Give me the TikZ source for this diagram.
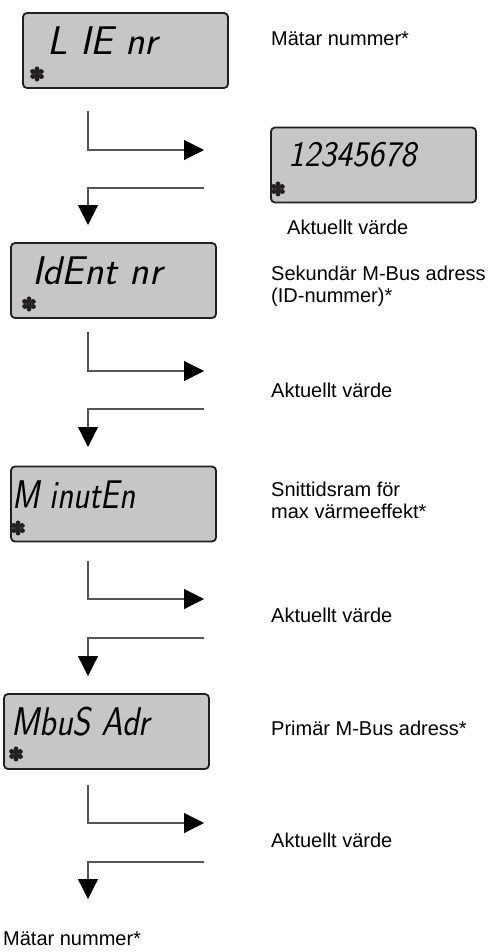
\documentclass[tikz,border=0pt]{standalone}
\usepackage{fontspec}
\usepackage{graphicx}
\setmainfont{Liberation Sans}
\newfontfamily\symfont[FakeBold=3]{DejaVu Sans}
\usetikzlibrary{arrows.meta}
\definecolor{lcdfill}{RGB}{198,198,198}
\definecolor{lcdedge}{RGB}{35,31,32}
\definecolor{wire}{RGB}{85,85,85}
\begin{document}
\begin{tikzpicture}[x=1pt,y=-1pt,
  lcdbox/.style={draw=lcdedge, line width=1.8pt, fill=lcdfill, rounded corners=4pt,
                 minimum width=205pt, minimum height=75pt, inner sep=0pt},
  lcdtext/.style={anchor=base west, inner sep=0pt,
                  font=\sffamily\slshape\fontsize{40}{40}\selectfont},
  lcddigits/.style={lcdtext, font=\sffamily\slshape\fontsize{36}{36}\selectfont},
  lcdstar/.style={inner sep=0pt, text=lcdedge, font=\symfont\fontsize{19}{19}\selectfont},
  note/.style={anchor=base west, inner sep=0pt, font=\fontsize{20}{24}\selectfont},
  wireline/.style={draw=wire, line width=1.2pt,
                   -{Triangle[length=20pt,width=20pt,color=black]}}]
\useasboundingbox (0,0) rectangle (492,952);

% display boxes
\node[lcdbox] (lie)   at (125.5,50.5) {};
\node[lcdbox] (value) at (373.5,165)  {};
\node[lcdbox] (ident) at (113.5,280.5) {};
\node[lcdbox] (minut) at (113.5,504)  {};
\node[lcdbox] (mbus)  at (106.5,731.5) {};

% display readings
\node[lcdtext] (lieT) at (47,55) {L IE nr};
\node[lcddigits] (valueT) at (288,167) {\scalebox{0.95}[1]{12345678}};
\node[lcdtext] (identT) at (32,284) {IdEnt nr};
\node[lcdtext] (minutT) at (12,508) {\scalebox{0.83}[1]{M inutEn}};
\node[lcdtext] (mbusT) at (11,735) {\scalebox{0.86}[1]{MbuS Adr}};

% display markers
\node[lcdstar] (lieS)   at (37,74)  {✽};
\node[lcdstar] (valueS) at (278,189) {✽};
\node[lcdstar] (identS) at (29,304) {✽};
\node[lcdstar] (minutS) at (18,528) {✽};
\node[lcdstar] (mbusS)  at (16,754) {✽};

% descriptions
\node[note] (d1)  at (271,46)  {Mätar nummer*};
\node[note] (d2)  at (287,234) {Aktuellt värde};
\node[note] (d3a) at (271,280) {Sekundär M-Bus adress};
\node[note] (d3b) at (271,302) {(ID-nummer)*};
\node[note] (d4)  at (271,397) {Aktuellt värde};
\node[note] (d5a) at (271,496) {Snittidsram för};
\node[note] (d5b) at (271,518) {max värmeeffekt*};
\node[note] (d6)  at (271,622) {Aktuellt värde};
\node[note] (d7)  at (271,735) {Primär M-Bus adress*};
\node[note] (d8)  at (271,847) {Aktuellt värde};
\node[note] (d9)  at (3,945)   {Mätar nummer*};

% connector end points
\coordinate (s1) at (88,111); \coordinate (e1) at (204,150);
\coordinate (r1) at (204,188); \coordinate (f1) at (88,225);
\coordinate (s2) at (88,332); \coordinate (e2) at (204,371);
\coordinate (r2) at (204,409); \coordinate (f2) at (88,447);
\coordinate (s3) at (88,561); \coordinate (e3) at (204,599);
\coordinate (r3) at (204,638); \coordinate (f3) at (88,676);
\coordinate (s4) at (88,785); \coordinate (e4) at (204,823);
\coordinate (r4) at (204,862); \coordinate (f4) at (88,899);

% step arrows
\foreach \i in {1,2,3,4}{
  \draw[wireline] (s\i) |- (e\i);
  \draw[wireline] (r\i) -| (f\i);
}
\end{tikzpicture}
\end{document}
